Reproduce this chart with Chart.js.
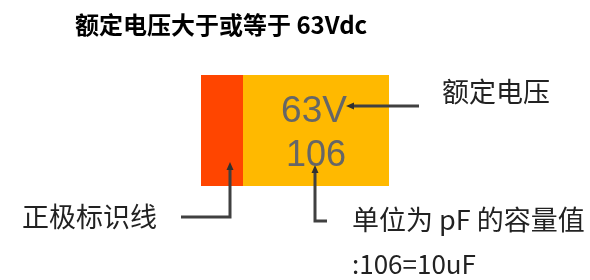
<!DOCTYPE html>
<html>
<head>
<meta charset="utf-8">
<script src="https://cdn.jsdelivr.net/npm/chart.js@4/dist/chart.umd.min.js"></script>
<style>
  body { margin: 0; background: #fff; }
  #wrap { width: 590px; height: 280px; }
</style>
</head>
<body>
<div id="wrap"><canvas id="diagram" width="590" height="280"></canvas></div>
<script>
// texts
const titleText = '额定电压大于或等于 63Vdc';
const bodyMarks = ['63V', '106'];
const calloutTexts = ['额定电压', '正极标识线', '单位为 pF 的容量值', ':106=10uF'];

// diagram outline, in picture units (x right, y down)
const polarityBand = [[201, 75], [243, 75], [243, 186], [201, 186], [201, 75]];
const capBody = [[243, 75], [389, 75], [389, 186], [243, 186], [243, 75]];
const voltageLeader = [[419, 106], [352, 106]];
const polarityLeader = [[181, 217], [230, 217], [230, 169]];
const capLeader = [[327, 221], [315, 221], [315, 172]];
const arrowHeads = [
    [[346, 106], [354, 102.5], [354, 109.5], [346, 106]],
    [[230, 162], [226.5, 170], [233.5, 170], [230, 162]],
    [[315, 165], [311.5, 173], [318.5, 173], [315, 165]]
];

const toPoints = arr => arr.map(p => ({ x: p[0], y: p[1] }));

// lower order is drawn on top
function shape(points, color, order) {
    return {
        data: toPoints(points),
        showLine: true,
        fill: 'shape',
        backgroundColor: color,
        borderColor: color,
        borderWidth: 0,
        pointRadius: 0,
        order: order
    };
}

function leader(points) {
    return {
        data: toPoints(points),
        showLine: true,
        fill: false,
        borderColor: '#404040',
        borderWidth: 3,
        borderJoinStyle: 'miter',
        pointRadius: 0,
        order: 1
    };
}

// text is placed with the chart's own scales
const textPlugin = {
    id: 'diagramText',
    afterDatasetsDraw(chart) {
        const ctx = chart.ctx;
        const xs = chart.scales.x;
        const ys = chart.scales.y;
        const put = (text, x, y, font, color, align, baseline) => {
            ctx.save();
            ctx.font = font;
            ctx.fillStyle = color;
            ctx.textAlign = align;
            ctx.textBaseline = baseline;
            ctx.fillText(text, xs.getPixelForValue(x), ys.getPixelForValue(y));
            ctx.restore();
        };
        const cjk = '"Noto Sans CJK SC", "Noto Sans", sans-serif';
        put(titleText, 75, 25, 'bold 24px ' + cjk, '#000', 'left', 'middle');
        put(bodyMarks[0], 314, 122, '37px "Liberation Sans", Arial, sans-serif', '#666', 'center', 'alphabetic');
        put(bodyMarks[1], 316, 166, '36px "Liberation Sans", Arial, sans-serif', '#666', 'center', 'alphabetic');
        put(calloutTexts[0], 442, 92, '27px ' + cjk, '#222', 'left', 'middle');
        put(calloutTexts[1], 22, 217, '27px ' + cjk, '#222', 'left', 'middle');
        put(calloutTexts[2], 352, 220, '27px ' + cjk, '#222', 'left', 'middle');
        put(calloutTexts[3], 352, 264, '26px ' + cjk, '#222', 'left', 'middle');
    }
};

const ctx = document.getElementById('diagram').getContext('2d');

const chart = new Chart(ctx, {
    type: 'scatter',
    data: {
        datasets: [
            shape(capBody, '#FFB900', 10),
            shape(polarityBand, '#FF4500', 9),
            leader(voltageLeader),
            leader(polarityLeader),
            leader(capLeader),
            ...arrowHeads.map(a => shape(a, '#303030', 0))
        ]
    },
    options: {
        responsive: false,
        devicePixelRatio: 1,
        animation: false,
        layout: { padding: 0 },
        plugins: {
            legend: { display: false },
            tooltip: { enabled: false }
        },
        scales: {
            x: { type: 'linear', display: false, min: 0, max: 590 },
            y: { type: 'linear', display: false, min: 0, max: 280, reverse: true }
        }
    },
    plugins: [textPlugin]
});
</script>
</body>
</html>
